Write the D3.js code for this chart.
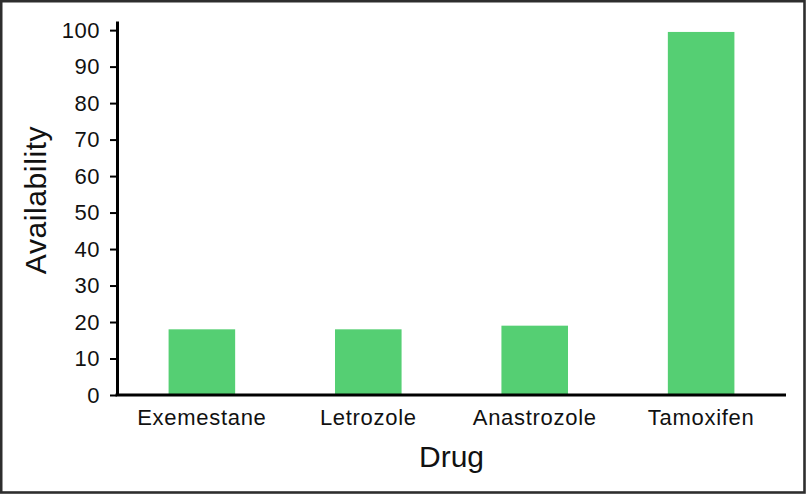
<!DOCTYPE html>
<html>
<head>
<meta charset="utf-8">
<script src="https://cdn.jsdelivr.net/npm/d3@7"></script>
<style>
  body { margin: 0; background: #fff; }
  text { font-family: "Liberation Sans", Arial, sans-serif; fill: #111; }
</style>
</head>
<body>
<svg id="drawing_region"></svg>
<script>
const drugs = ["Exemestane", "Letrozole", "Anastrozole", "Tamoxifen"];
const availability = [18, 18, 19, 99.5];
const yTicks = [0, 10, 20, 30, 40, 50, 60, 70, 80, 90, 100];

const data = drugs.map((d, i) => ({ label: d, value: availability[i] }));

const width = 806, height = 494;
const svg = d3.select("#drawing_region")
    .attr("width", width)
    .attr("height", height);

// frame round the whole figure
svg.append("rect")
    .attr("x", 1.2).attr("y", 1.2)
    .attr("width", width - 2.7).attr("height", height - 2.7)
    .attr("fill", "none")
    .attr("stroke", "#2e2e2e")
    .attr("stroke-width", 2.6);

const x = d3.scaleBand()
    .domain(drugs)
    .range([117, 786])
    .paddingInner(0.6)
    .paddingOuter(0.31);

const y = d3.scaleLinear()
    .domain([0, 102.5])
    .range([395, 21]);

// bars
svg.append("g").selectAll("rect")
    .data(data)
    .enter()
    .append("rect")
    .attr("x", d => x(d.label))
    .attr("y", d => y(d.value))
    .attr("width", x.bandwidth())
    .attr("height", d => y(0) - y(d.value))
    .attr("fill", "#55cf73");

// y axis
const yAxis = svg.append("g")
    .attr("transform", "translate(117,0)")
    .call(d3.axisLeft(y).tickValues(yTicks).tickSize(7).tickSizeOuter(0).tickPadding(10));
yAxis.select(".domain").attr("stroke", "#000").attr("stroke-width", 3);
yAxis.selectAll(".tick line").attr("stroke", "#000").attr("stroke-width", 2);
yAxis.selectAll(".tick text")
    .style("font-size", "22px")
    .style("letter-spacing", "0.5px")
    .style("font-family", "Liberation Sans, Arial, sans-serif")
    .attr("fill", "#111");

// x axis
const xAxis = svg.append("g")
    .attr("transform", "translate(0,395)")
    .call(d3.axisBottom(x).tickSize(0).tickSizeOuter(0).tickPadding(14));
xAxis.select(".domain").attr("stroke", "#000").attr("stroke-width", 3)
    .attr("d", "M115.5,0H786");
xAxis.selectAll(".tick text")
    .style("font-size", "22px")
    .style("letter-spacing", "0.7px")
    .style("font-family", "Liberation Sans, Arial, sans-serif")
    .attr("fill", "#111");

// axis titles
svg.append("text")
    .attr("transform", "translate(46,200) rotate(-90)")
    .attr("text-anchor", "middle")
    .style("font-size", "30px")
    .style("letter-spacing", "0.6px")
    .text("Availability");

svg.append("text")
    .attr("x", 451.5)
    .attr("y", 467)
    .attr("text-anchor", "middle")
    .style("font-size", "30px")
    .text("Drug");
</script>
</body>
</html>
